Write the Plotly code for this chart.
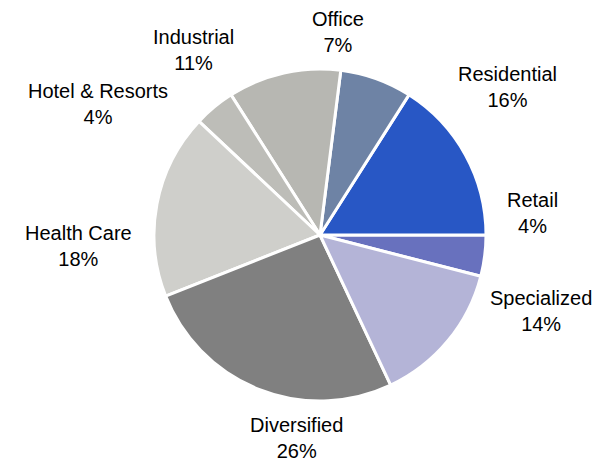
import math
import plotly.graph_objects as go

labels = ["Retail", "Residential", "Office", "Industrial", "Hotel & Resorts",
          "Health Care", "Diversified", "Specialized"]
values = [4, 16, 7, 11, 4, 18, 26, 14]
colors = ["#6871BE", "#2857C5", "#6E83A5", "#B7B7B2", "#BDBDB8",
          "#CFCFCB", "#808080", "#B4B4D7"]

W, H = 600, 464
# pie geometry in pixels (page has an 8px body margin)
CX, CY, R = 312, 227, 166
GAP_X, GAP_Y = 20, 12
FONT = dict(family="Liberation Sans, Arial, sans-serif", size=20, color="#000000")

fig = go.Figure(go.Pie(
    labels=labels,
    values=values,
    sort=False,
    direction="counterclockwise",
    rotation=90,
    marker=dict(colors=colors, line=dict(color="white", width=3)),
    textinfo="none",
    showlegend=False,
    automargin=False,
    domain=dict(x=[(CX - R) / W, (CX + R) / W],
                y=[1 - (CY + R) / H, 1 - (CY - R) / H]),
    hoverinfo="label+percent",
))

# outside labels positioned at each slice's mid-angle, derived from the values
total = sum(values)
cum = 0
annotations = []
for lab, v in zip(labels, values):
    mid = (cum + v / 2) / total * 2 * math.pi  # counterclockwise from 3 o'clock
    cum += v
    c, s = math.cos(mid), math.sin(mid)
    px = CX + (R + GAP_X) * c
    py = CY - (R + GAP_Y) * s
    xa = "left" if c > 0.4 else ("right" if c < -0.4 else "center")
    ya = "bottom" if s > 0.5 else ("top" if s < -0.5 else "middle")
    pct = round(v / total * 100)
    annotations.append(dict(
        x=px / W, y=1 - py / H, xref="paper", yref="paper",
        text=f"{lab}<br>{pct}%", showarrow=False,
        xanchor=xa, yanchor=ya, align="center", font=FONT,
    ))

fig.update_layout(
    width=W, height=H,
    margin=dict(l=0, r=0, t=0, b=0),
    paper_bgcolor="white",
    plot_bgcolor="white",
    annotations=annotations,
)

fig.write_html("out.html")
